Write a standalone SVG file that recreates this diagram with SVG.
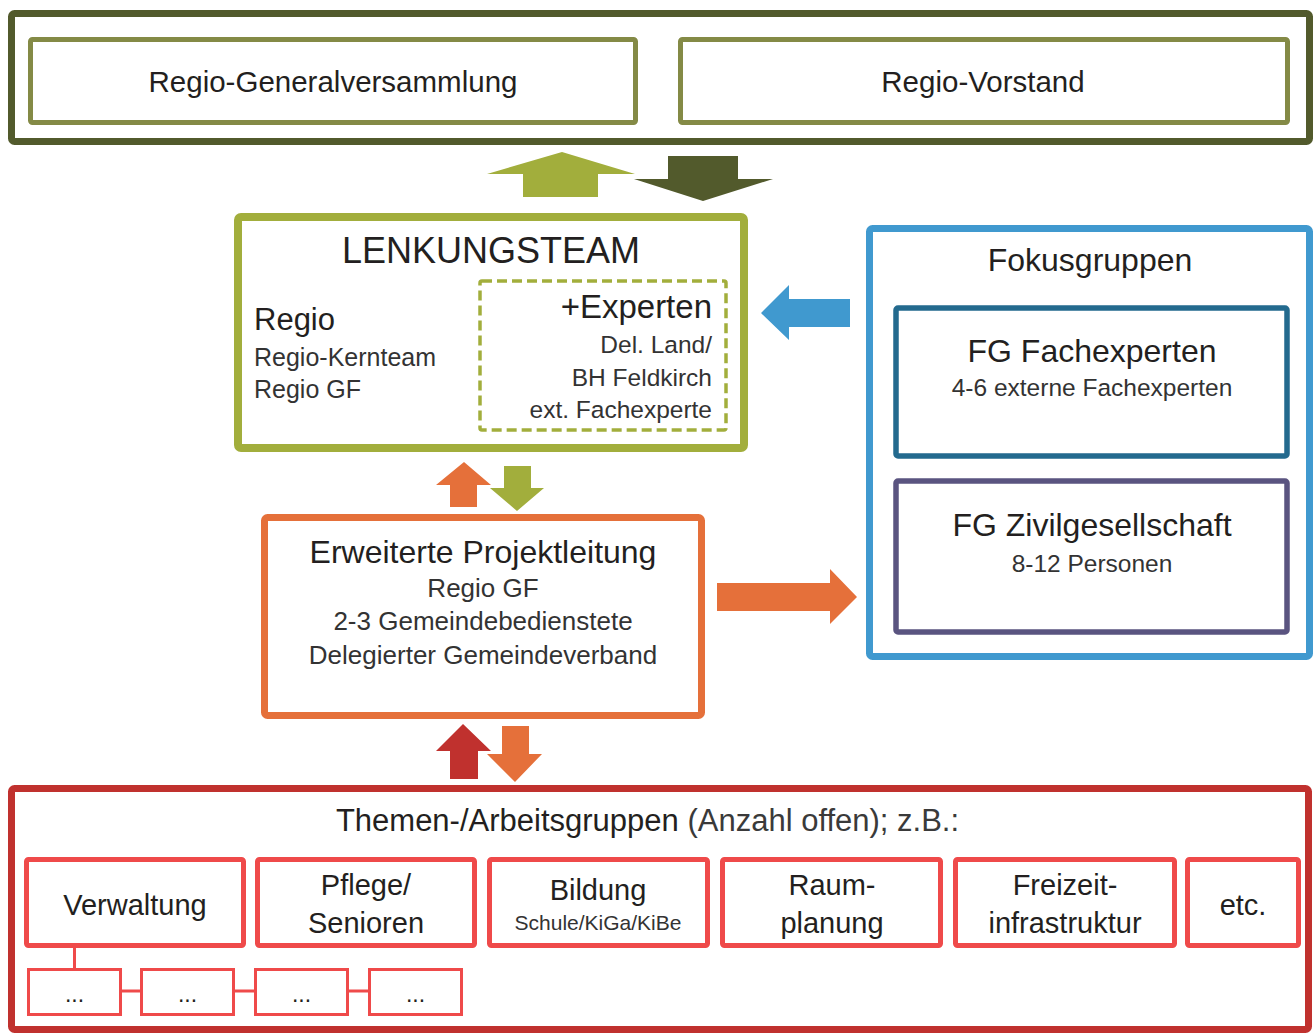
<svg xmlns="http://www.w3.org/2000/svg" width="1316" height="1035" viewBox="0 0 1316 1035">
<style>
text{font-family:"Liberation Sans",Arial,sans-serif;fill:#231f20}
.c{text-anchor:middle}
.r{text-anchor:end}
.s{fill:#333333}
.box{fill:#ffffff}
.tg{fill:#fff;stroke:#ef4a4a;stroke-width:5}
.sm{fill:#fff;stroke:#ef4a4a;stroke-width:3}
</style>
<rect width="1316" height="1035" fill="#ffffff"/>

<g id="top-group">
  <rect x="11.5" y="13.5" width="1298" height="128" rx="3" fill="#fff" stroke="#525a2c" stroke-width="7"/>
  <g id="generalversammlung">
    <rect x="30.5" y="39.5" width="605" height="83" rx="2" fill="#fff" stroke="#848a46" stroke-width="5"/>
    <text class="c" x="333" y="92" font-size="29.5">Regio-Generalversammlung</text>
  </g>
  <g id="vorstand">
    <rect x="680.5" y="39.5" width="607" height="83" rx="2" fill="#fff" stroke="#848a46" stroke-width="5"/>
    <text class="c" x="983" y="92" font-size="29.5">Regio-Vorstand</text>
  </g>
</g>

<g id="lenkungsteam">
  <rect x="238" y="217" width="506" height="231" rx="3" fill="#fff" stroke="#a2ae3c" stroke-width="8"/>
  <text class="c" x="491" y="263" font-size="36">LENKUNGSTEAM</text>
  <text x="254" y="330" font-size="31">Regio</text>
  <text class="s" x="254" y="366" font-size="25">Regio-Kernteam</text>
  <text class="s" x="254" y="398" font-size="25">Regio GF</text>
  <g id="experten">
    <rect x="480" y="281" width="246" height="149" rx="2" fill="none" stroke="#a2ae3c" stroke-width="3.5" stroke-dasharray="10,5"/>
    <text class="r" x="712" y="318" font-size="33">+Experten</text>
    <text class="r s" x="712" y="353" font-size="24.5">Del. Land/</text>
    <text class="r s" x="712" y="386" font-size="24.5">BH Feldkirch</text>
    <text class="r s" x="712" y="418" font-size="24.5">ext. Fachexperte</text>
  </g>
</g>

<g id="fokusgruppen">
  <rect x="869.5" y="228.5" width="440" height="428" rx="3" fill="#fff" stroke="#4099cf" stroke-width="7"/>
  <text class="c" x="1090" y="271" font-size="32">Fokusgruppen</text>
  <g id="fg-fachexperten">
    <rect x="896" y="308" width="391" height="148" rx="2" fill="#fff" stroke="#236a8e" stroke-width="5.5"/>
    <text class="c" x="1092" y="362" font-size="32">FG Fachexperten</text>
    <text class="c s" x="1092" y="396" font-size="24.5">4-6 externe Fachexperten</text>
  </g>
  <g id="fg-zivilgesellschaft">
    <rect x="896" y="481" width="391" height="151" rx="2" fill="#fff" stroke="#5a5480" stroke-width="5.5"/>
    <text class="c" x="1092" y="536" font-size="32">FG Zivilgesellschaft</text>
    <text class="c s" x="1092" y="572" font-size="24.5">8-12 Personen</text>
  </g>
</g>

<g id="projektleitung">
  <rect x="264.5" y="517.5" width="437" height="198" rx="3" fill="#fff" stroke="#e5703a" stroke-width="7"/>
  <text class="c" x="483" y="563" font-size="32">Erweiterte Projektleitung</text>
  <text class="c s" x="483" y="597" font-size="26">Regio GF</text>
  <text class="c s" x="483" y="630" font-size="26">2-3 Gemeindebedienstete</text>
  <text class="c s" x="483" y="664" font-size="26">Delegierter Gemeindeverband</text>
</g>

<g id="arbeitsgruppen">
  <rect x="11.5" y="788.5" width="1297" height="241" rx="3" fill="#fff" stroke="#c0312e" stroke-width="7"/>
  <text class="c" x="647.5" y="831" font-size="31">Themen-/Arbeitsgruppen<tspan fill="#3a3a3a"> (Anzahl offen); z.B.:</tspan></text>
  <g id="ag-verwaltung">
    <rect class="tg" x="26.5" y="859.5" width="217" height="86" rx="2"/>
    <text class="c" x="135" y="915" font-size="29">Verwaltung</text>
  </g>
  <g id="ag-pflege">
    <rect class="tg" x="257.5" y="859.5" width="217" height="86" rx="2"/>
    <text class="c" x="366" y="895" font-size="29">Pflege/</text>
    <text class="c" x="366" y="933" font-size="29">Senioren</text>
  </g>
  <g id="ag-bildung">
    <rect class="tg" x="489.5" y="859.5" width="218" height="86" rx="2"/>
    <text class="c" x="598" y="900" font-size="29">Bildung</text>
    <text class="c s" x="598" y="930" font-size="21">Schule/KiGa/KiBe</text>
  </g>
  <g id="ag-raumplanung">
    <rect class="tg" x="722.5" y="859.5" width="218" height="86" rx="2"/>
    <text class="c" x="832" y="895" font-size="29">Raum-</text>
    <text class="c" x="832" y="933" font-size="29">planung</text>
  </g>
  <g id="ag-freizeit">
    <rect class="tg" x="955.5" y="859.5" width="219" height="86" rx="2"/>
    <text class="c" x="1065" y="895" font-size="29">Freizeit-</text>
    <text class="c" x="1065" y="933" font-size="29">infrastruktur</text>
  </g>
  <g id="ag-etc">
    <rect class="tg" x="1187.5" y="859.5" width="111" height="86" rx="2"/>
    <text class="c" x="1243" y="915" font-size="29">etc.</text>
  </g>
  <g id="sub1"><rect class="sm" x="28.5" y="969.5" width="92" height="45"/><text class="c" x="74.5" y="1002" font-size="23">...</text></g>
  <g id="sub2"><rect class="sm" x="141.5" y="969.5" width="92" height="45"/><text class="c" x="187.5" y="1002" font-size="23">...</text></g>
  <g id="sub3"><rect class="sm" x="255.5" y="969.5" width="92" height="45"/><text class="c" x="301.5" y="1002" font-size="23">...</text></g>
  <g id="sub4"><rect class="sm" x="369.5" y="969.5" width="92" height="45"/><text class="c" x="415.5" y="1002" font-size="23">...</text></g>
</g>

<g id="connectors">
  <polygon points="523,197 598,197 598,174 635,174 562,152 487,174 523,174" fill="#a2ae3c"/>
  <polygon points="668,156 738,156 738,179 773,179 703,201 634,179 668,179" fill="#525a2c"/>
  <polygon points="450,507 477,507 477,485 491,485 464,462 436,485 450,485" fill="#e5703a"/>
  <polygon points="504,466 531,466 531,488 544,488 517,511 490,488 504,488" fill="#a2ae3c"/>
  <polygon points="450,779 478,779 478,751 491,751 463,724 436,751 450,751" fill="#c0312e"/>
  <polygon points="502,726 529,726 529,754 542,754 515,782 487,754 502,754" fill="#e5703a"/>
  <polygon points="850,299 850,327 789,327 789,340 761,313 789,285 789,299" fill="#4099cf"/>
  <polygon points="717,583 830,583 830,569 857,597 830,624 830,611 717,611" fill="#e5703a"/>
  <g stroke="#ef4a4a" stroke-width="3" fill="none">
    <line x1="74.5" y1="948" x2="74.5" y2="968"/>
    <line x1="122" y1="991" x2="140" y2="991"/>
    <line x1="235" y1="991" x2="254" y2="991"/>
    <line x1="349" y1="991" x2="368" y2="991"/>
  </g>
</g>
</svg>
